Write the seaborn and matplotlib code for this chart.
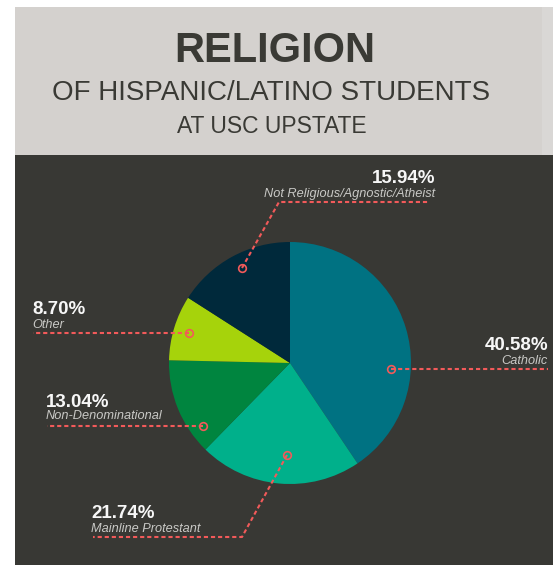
import matplotlib
matplotlib.use("Agg")
import matplotlib.pyplot as plt
import seaborn as sns
from matplotlib.patches import Rectangle

# ---- data ----
categories = ["Catholic", "Mainline Protestant", "Non-Denominational", "Other",
              "Not Religious/Agnostic/Atheist"]
values = [40.58, 21.74, 13.04, 8.70, 15.94]
value_labels = ["40.58%", "21.74%", "13.04%", "8.70%", "15.94%"]
slice_colors = ["#007282", "#00B08B", "#00853F", "#A6D30B", "#00293B"]

title_lines = ["RELIGION", "OF HISPANIC/LATINO STUDENTS", "AT USC UPSTATE"]

sns.set_style("white")
plt.rcParams['font.family'] = ['Liberation Sans', 'DejaVu Sans']

W, H = 553, 565
fig = plt.figure(figsize=(W / 100, H / 100), dpi=100, facecolor="white")
ax = fig.add_axes([0, 0, 1, 1])
ax.set_xlim(0, W)
ax.set_ylim(0, H)
ax.axis("off")

def Y(yp):
    return H - yp

# backgrounds
ax.add_patch(Rectangle((15, Y(155)), W - 15, 148, facecolor="#D4D1CE", edgecolor="none", zorder=0))
ax.add_patch(Rectangle((542, Y(155)), 11, 148, facecolor="#D9D7D5", edgecolor="none", zorder=0))
ax.add_patch(Rectangle((15, 0), W - 15, Y(155), facecolor="#383834", edgecolor="none", zorder=0))

# titles
tc = "#3A3A35"
ax.text(275, Y(62), title_lines[0], ha="center", va="baseline", fontsize=30,
        fontweight="bold", color=tc)
ax.text(271, Y(100), title_lines[1], ha="center", va="baseline", fontsize=20, color=tc)
ax.text(272, Y(133), title_lines[2], ha="center", va="baseline", fontsize=16.5, color=tc)

# pie
palette = sns.color_palette(slice_colors)
cx, cy, r = 290, Y(363), 121
ax.pie(values, colors=palette, startangle=90, counterclock=False,
       center=(cx, cy), radius=r, frame=True,
       wedgeprops=dict(linewidth=0, edgecolor="none"))
ax.set_xlim(0, W)
ax.set_ylim(0, H)
ax.set_aspect("equal")
ax.axis("off")

# leader lines
lc = "#F25A5A"
dash = (0, (2.0, 1.4))
leaders = {
    "Catholic": [(391, 369), (548, 369)],
    "Mainline Protestant": [(287, 455), (242, 537), (93, 537)],
    "Non-Denominational": [(203, 426), (47, 426)],
    "Other": [(189, 333), (33, 333)],
    "Not Religious/Agnostic/Atheist": [(242, 268), (279, 202), (428, 202)],
}
for name, pts in leaders.items():
    xs = [p[0] for p in pts]
    ys = [Y(p[1]) for p in pts]
    ax.plot(xs, ys, color=lc, lw=1.5, linestyle=dash, zorder=5)
    ax.plot(xs[0], ys[0], marker="o", markersize=5.5, markerfacecolor="none",
            markeredgecolor=lc, markeredgewidth=1.2, zorder=6)

# labels: (x, baseline pct, baseline name, ha)
label_pos = {
    "Catholic": (548, 350, 364, "right"),
    "Mainline Protestant": (91, 518, 532, "left"),
    "Non-Denominational": (46, 407, 419, "left"),
    "Other": (32, 314, 328, "left"),
    "Not Religious/Agnostic/Atheist": (435, 183, 197, "right"),
}
for name, vl in zip(categories, value_labels):
    x, yb1, yb2, ha = label_pos[name]
    ax.text(x, Y(yb1), vl, ha=ha, va="baseline", fontsize=13.5, fontweight="bold",
            color="#F7F7F7", zorder=7)
    ax.text(x, Y(yb2), name, ha=ha, va="baseline", fontsize=9.2, style="italic",
            color="#C9C9C6", zorder=7)

fig.savefig("out.png", dpi=100, facecolor="white")
